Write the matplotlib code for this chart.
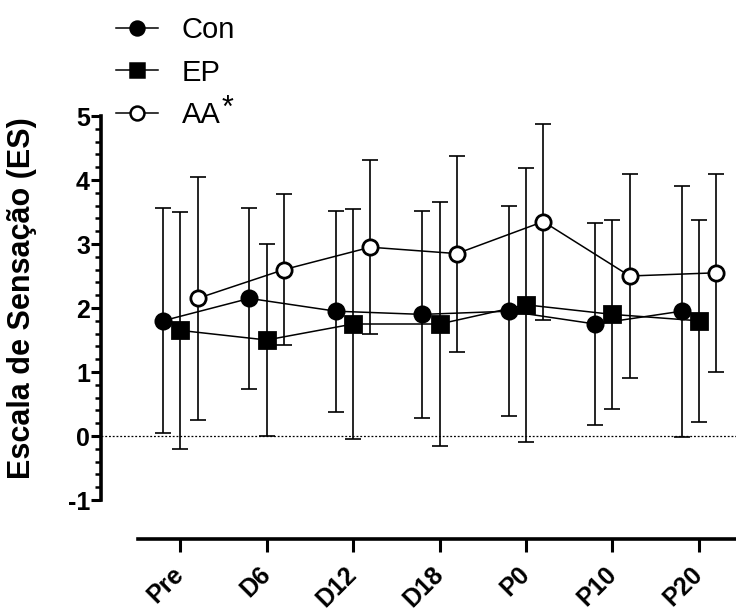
import numpy as np
import matplotlib
matplotlib.use("Agg")
from matplotlib import pyplot as plt
from matplotlib.lines import Line2D
from matplotlib.ticker import MultipleLocator

plt.rcParams['font.family'] = ['Liberation Sans', 'DejaVu Sans']
plt.rcParams['axes.unicode_minus'] = False

groups = ["Pre", "D6", "D12", "D18", "P0", "P10", "P20"]

con_mean = [1.80, 2.15, 1.95, 1.90, 1.95, 1.75, 1.95]
con_sd = [1.76, 1.42, 1.57, 1.62, 1.64, 1.58, 1.96]

ep_mean = [1.65, 1.50, 1.75, 1.75, 2.05, 1.90, 1.80]
ep_sd = [1.85, 1.50, 1.80, 1.91, 2.14, 1.48, 1.58]

aa_mean = [2.15, 2.60, 2.95, 2.85, 3.35, 2.50, 2.55]
aa_sd = [1.90, 1.18, 1.36, 1.53, 1.53, 1.60, 1.55]

W, H = 736, 613
fig = plt.figure(figsize=(W / 100, H / 100), dpi=100)

xmin, xmax = -0.917, 6.43

# main data panel, only the left spine is shown
ax = fig.add_axes([101 / W, 1 - 500 / H, (W - 101) / W, (500 - 116) / H])
x = np.arange(len(groups))
offset = 0.2
lw_axis = 2.6

series = [
    (con_mean, con_sd, -offset, 'o', 'black', 'Con'),
    (ep_mean, ep_sd, 0.0, 's', 'black', 'EP'),
    (aa_mean, aa_sd, offset, 'o', 'white', 'AA'),
]
for k, (m, sd, dx, mk, fc, lab) in enumerate(series):
    ax.errorbar(x + dx, m, yerr=sd, fmt='none', ecolor='black',
                elinewidth=1.2, capsize=5.5, capthick=1.2, zorder=2)
    ax.plot(x + dx, m, color='black', linewidth=1.1, marker=mk,
            markersize=11, markerfacecolor=fc, markeredgecolor='black',
            markeredgewidth=2.0, zorder=3 + k)

ax.axhline(0, color='black', linestyle=(0, (1.5, 1.5)), linewidth=0.9, zorder=1)

ax.set_xlim(xmin, xmax)
ax.set_ylim(-1, 5)
for s in ['top', 'right', 'bottom']:
    ax.spines[s].set_visible(False)
ax.spines['left'].set_linewidth(lw_axis)
ax.set_xticks([])
ax.yaxis.set_major_locator(MultipleLocator(1))
ax.yaxis.set_minor_locator(MultipleLocator(0.2))
ax.tick_params(axis='y', which='major', direction='out', length=7, width=2.2,
               labelsize=18, pad=1)
ax.tick_params(axis='y', which='minor', direction='out', length=4.5, width=1.8)
for t in ax.get_yticklabels():
    t.set_fontweight('bold')
ax.set_ylabel("Escala de Sensação (ES)", fontsize=22, fontweight='bold')
ax.yaxis.set_label_coords(-0.1, 0.525)
ax.patch.set_alpha(0)

# separate category axis below the panel
ax2_left = 138
ax2 = fig.add_axes([ax2_left / W, 1 - 539 / H, (W - ax2_left) / W, 0.0001])
ax2.set_xlim(xmin + (ax2_left - 101) / (W - 101) * (xmax - xmin), xmax)
for s in ['top', 'right', 'left']:
    ax2.spines[s].set_visible(False)
ax2.spines['bottom'].set_linewidth(lw_axis)
ax2.set_yticks([])
ax2.set_xticks(x)
ax2.set_xticklabels(groups, rotation=45, ha='right', va='center',
                    rotation_mode='anchor', fontsize=18, fontweight='bold')
ax2.tick_params(axis='x', direction='out', length=9, width=2.2, pad=14)
ax2.patch.set_alpha(0)

handles = [Line2D([], [], color='black', linewidth=1.1, marker=mk, markersize=10,
                  markerfacecolor=fc, markeredgecolor='black', markeredgewidth=1.8)
           for (_, _, _, mk, fc, _) in series]
labels = [s[5] for s in series]
leg = fig.legend(handles, labels, loc='upper left', bbox_to_anchor=(116 / W, 1 - 16 / H),
                 frameon=False, fontsize=21, handlelength=1.45, handletextpad=0.8,
                 labelspacing=0.5, borderpad=0, borderaxespad=0)

# raised asterisk after the AA entry
fig.canvas.draw()
aa_text = leg.get_texts()[2]
ax.annotate("*", xy=(1, 1), xycoords=aa_text, xytext=(1, 5),
            textcoords='offset points', ha='left', va='top', fontsize=22,
            annotation_clip=False)

fig.savefig("out.png", dpi=100)
